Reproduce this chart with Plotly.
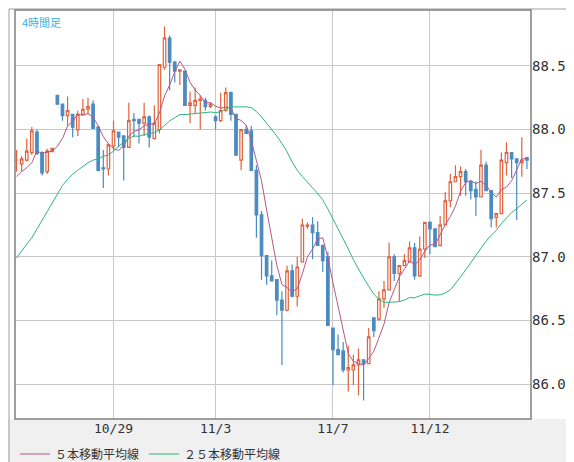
import plotly.graph_objects as go
import pandas as pd

opens = [87.76,87.73,87.76,87.82,87.98,87.82,87.67,87.83,88.27,88.20,88.11,88.12,88.00,88.12,88.16,88.20,88.02,87.70,87.69,87.87,
         87.98,87.95,87.86,88.08,88.08,88.05,88.10,87.93,88.00,88.49,88.72,88.53,88.46,88.46,88.19,88.19,88.23,88.23,88.18,88.10,
         88.07,88.15,88.29,88.12,87.76,88.00,87.99,87.68,87.33,87.01,86.85,86.82,86.66,86.58,86.89,86.69,86.96,87.24,87.25,87.19,
         87.09,87.00,86.44,86.27,86.26,86.11,86.11,86.15,86.19,86.16,86.52,86.51,86.67,86.74,87.00,86.87,86.93,86.96,87.07,86.85,
         87.06,87.27,87.22,87.09,87.25,87.44,87.59,87.63,87.67,87.59,87.53,87.47,87.72,87.52,87.31,87.34,87.74,87.82,87.77,87.74,87.78]
highs = [87.84,87.79,87.93,88.02,88.00,87.83,87.85,87.86,88.27,88.20,88.26,88.12,88.15,88.24,88.25,88.23,88.03,87.84,87.89,88.07,
         87.98,87.95,88.21,88.13,88.08,88.21,88.11,88.19,88.51,88.81,88.74,88.54,88.47,88.46,88.30,88.33,88.27,88.25,88.21,88.11,
         88.29,88.33,88.30,88.12,88.00,88.03,88.03,87.72,87.36,87.01,86.97,86.82,86.73,86.93,86.94,87.00,87.30,87.27,87.31,87.28,
         87.09,87.04,86.44,86.39,86.33,86.30,86.23,86.28,86.19,86.44,86.52,86.73,86.81,87.11,87.02,86.93,87.02,87.12,87.11,87.16,
         87.27,87.28,87.22,87.32,87.51,87.65,87.72,87.71,87.69,87.60,87.59,87.84,87.75,87.52,87.34,87.82,87.90,87.82,87.77,87.94,87.78]
lows = [87.67,87.67,87.75,87.80,87.80,87.64,87.65,87.82,88.20,88.07,88.03,87.94,87.95,88.12,88.12,88.01,87.68,87.54,87.64,87.84,
        87.86,87.60,87.86,87.94,87.89,87.95,87.86,87.92,87.97,88.47,88.31,88.37,88.35,88.19,88.05,88.12,88.00,88.15,88.17,88.00,
        88.06,88.14,88.07,87.80,87.68,87.97,87.68,87.15,86.82,86.78,86.81,86.54,86.15,86.57,86.68,86.61,86.96,87.22,86.98,87.09,
        86.88,86.46,85.99,86.23,86.09,85.94,85.99,85.91,85.87,86.16,86.37,86.50,86.60,86.74,86.81,86.65,86.93,86.96,86.82,86.84,
        86.99,87.02,87.08,87.08,87.25,87.39,87.59,87.48,87.48,87.45,87.32,87.47,87.52,87.23,87.23,87.34,87.64,87.62,87.29,87.63,87.69]
closes = [87.76,87.77,87.83,87.99,87.81,87.66,87.83,87.85,88.20,88.11,88.15,88.02,88.12,88.16,88.18,88.01,87.68,87.69,87.88,87.99,
          87.94,87.86,88.07,88.07,88.05,88.10,87.94,88.05,88.51,88.72,88.53,88.46,88.47,88.19,88.21,88.23,88.24,88.18,88.20,88.07,
          88.15,88.29,88.12,87.80,88.00,87.97,87.68,87.33,87.01,86.85,86.81,86.66,86.58,86.89,86.69,86.92,87.25,87.25,87.19,87.09,
          86.97,86.46,86.27,86.23,86.11,86.13,86.15,86.19,86.16,86.37,86.42,86.67,86.74,87.00,86.87,86.93,86.97,87.07,86.85,87.06,
          87.27,87.22,87.08,87.25,87.44,87.59,87.63,87.67,87.59,87.52,87.47,87.72,87.52,87.30,87.34,87.76,87.82,87.77,87.74,87.76,87.76]

# moving-average values before enough bars are visible
ma5_head = [87.63,87.67,87.70,87.74]
ma25_head = [86.99,87.05,87.10,87.15,87.22,87.29,87.36,87.43,87.50,87.56,87.61,87.65,
             87.68,87.71,87.74,87.76,87.77,87.79,87.80,87.83,87.87,87.90,87.93,87.95]

tick_vals = [19, 39, 62, 81]
tick_text = ["10/29", "11/3", "11/7", "11/12"]
y_ticks = [86.0, 86.5, 87.0, 87.5, 88.0, 88.5]

idx = list(range(len(closes)))
s = pd.Series(closes)
ma5 = ma5_head + list(s.rolling(5).mean().iloc[len(ma5_head):])
ma25 = ma25_head + list(s.rolling(25).mean().iloc[len(ma25_head):])

fig = go.Figure()
fig.add_trace(go.Candlestick(
    x=idx, open=opens, high=highs, low=lows, close=closes,
    increasing=dict(line=dict(color="#e0623c", width=1.2), fillcolor="#ffffff"),
    decreasing=dict(line=dict(color="#4a8bc2", width=1.2), fillcolor="#4a8bc2"),
    whiskerwidth=0, showlegend=False, hoverinfo="skip"))
fig.add_trace(go.Scatter(x=idx, y=ma5, mode="lines", line=dict(color="#b4578a", width=1),
                         name="５本移動平均線"))
fig.add_trace(go.Scatter(x=idx, y=ma25, mode="lines", line=dict(color="#2eb67d", width=1),
                         name="２５本移動平均線"))

W, H = 516, 409
fig.add_shape(type="rect", xref="paper", yref="paper", x0=-7/W, x1=1+51/W, y0=-51/H, y1=0,
              fillcolor="#f0f0f0", line_width=0, layer="below")
fig.add_shape(type="rect", xref="paper", yref="paper", x0=-6/W, x1=1+50/W, y0=-50/H, y1=1+1/H,
              fillcolor="rgba(0,0,0,0)", line=dict(color="#a0a0a0", width=1))
fig.add_shape(type="rect", xref="paper", yref="paper", x0=0, x1=1, y0=0, y1=1,
              fillcolor="rgba(0,0,0,0)", line=dict(color="#808080", width=1.5))
fig.add_annotation(text="4時間足", xref="paper", yref="paper", x=0.01, y=0.995,
                   xanchor="left", yanchor="top", showarrow=False,
                   font=dict(color="#33b5e5", size=11, family="Noto Sans CJK JP"))

fig.update_layout(
    width=574, height=462, margin=dict(l=7, r=51, t=2, b=51, autoexpand=False),
    paper_bgcolor="#ffffff", plot_bgcolor="#ffffff",
    font=dict(family="DejaVu Sans Mono", size=13, color="#333333"),
    xaxis=dict(range=[-0.3, 100.8], tickvals=tick_vals, ticktext=tick_text, automargin=False,
               showgrid=True, gridcolor="#c8c8c8", gridwidth=1, zeroline=False,
               rangeslider=dict(visible=False), ticks="", showline=False,
               tickfont=dict(size=13)),
    yaxis=dict(range=[85.725, 88.94], tickvals=y_ticks, ticktext=[f"{v:.1f}" for v in y_ticks],
               side="right", showgrid=True, gridcolor="#c8c8c8", gridwidth=1, automargin=False,
               zeroline=False, ticks="", showline=False, tickfont=dict(size=14)),
    legend=dict(orientation="h", x=0.0, y=-35/H, xanchor="left", yanchor="middle",
                bgcolor="rgba(0,0,0,0)", font=dict(family="Noto Sans CJK JP", size=12, color="#333333"),
                itemwidth=30),
    showlegend=True,
)
fig.write_html("out.html")
